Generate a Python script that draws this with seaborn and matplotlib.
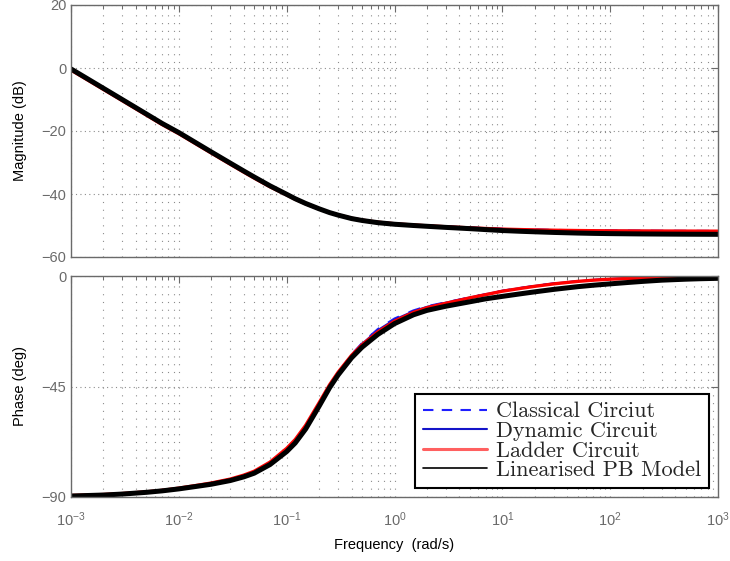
import numpy as np
import pandas as pd
import matplotlib
matplotlib.use("Agg")
import matplotlib.pyplot as plt
import seaborn as sns
from matplotlib.ticker import LogLocator, FixedLocator, NullFormatter
from matplotlib.font_manager import FontProperties

# ---------------- data ----------------
freq = [1e-3, 2e-3, 3e-3, 5e-3, 7e-3, 1e-2, 1.5e-2, 2e-2, 3e-2, 4e-2, 5e-2, 7e-2,
        0.1, 0.12, 0.15, 0.2, 0.25, 0.3, 0.4, 0.5, 0.7, 1, 1.5, 2, 3, 5, 7, 10,
        15, 20, 30, 50, 70, 100, 150, 200, 300, 500, 700, 1000]

mag_pb = [-0.3, -6.45, -10.05, -14.6, -17.6, -20.5, -24.1, -26.65, -30.2, -32.7,
          -34.6, -37.4, -40.1, -41.5, -43.0, -44.7, -45.9, -46.7, -47.8, -48.4,
          -49.1, -49.6, -50.0, -50.25, -50.6, -51.0, -51.3, -51.6, -51.85, -52.0,
          -52.2, -52.4, -52.5, -52.58, -52.64, -52.68, -52.72, -52.76, -52.78, -52.8]
mag_ladder = [-0.65, -6.8, -10.4, -14.95, -17.95, -20.85, -24.45, -27.0, -30.55, -33.05,
              -34.95, -37.7, -40.3, -41.65, -43.1, -44.75, -45.9, -46.65, -47.7, -48.3,
              -48.95, -49.45, -49.85, -50.1, -50.4, -50.75, -50.95, -51.15, -51.3, -51.4,
              -51.5, -51.6, -51.65, -51.7, -51.72, -51.74, -51.76, -51.78, -51.79, -51.8]
mag_dynamic = [-0.1, -6.25, -9.85, -14.4, -17.4, -20.3, -23.9, -26.45, -30.0, -32.5,
               -34.4, -37.2, -39.9, -41.3, -42.8, -44.5, -45.7, -46.5, -47.55, -48.15,
               -48.85, -49.35, -49.75, -50.0, -50.3, -50.65, -50.85, -51.05, -51.2, -51.3,
               -51.4, -51.5, -51.55, -51.6, -51.63, -51.65, -51.68, -51.7, -51.71, -51.72]
mag_classical = [-0.1, -6.25, -9.85, -14.4, -17.4, -20.3, -23.9, -26.45, -30.0, -32.5,
                 -34.4, -37.2, -39.9, -41.3, -42.8, -44.5, -45.7, -46.5, -47.55, -48.15,
                 -48.85, -49.35, -49.75, -50.0, -50.3, -50.65, -50.85, -51.05, -51.2, -51.3,
                 -51.4, -51.5, -51.55, -51.6, -51.63, -51.65, -51.68, -51.7, -51.71, -51.72]

ph_pb = [-89.6, -89.2, -88.8, -88.1, -87.5, -86.7, -85.6, -84.8, -83.3, -81.8,
         -80.3, -76.8, -71.5, -68.0, -62.3, -53.0, -45.5, -40.3, -33.3, -29.0,
         -23.8, -19.4, -15.8, -14.0, -12.3, -10.5, -9.3, -8.3, -7.2, -6.45,
         -5.45, -4.35, -3.75, -3.2, -2.6, -2.2, -1.7, -1.3, -1.1, -0.95]
ph_ladder = [-89.4, -89.0, -88.6, -87.9, -87.3, -86.4, -85.2, -84.3, -82.7, -81.1,
             -79.5, -75.8, -70.2, -66.6, -60.8, -51.6, -44.3, -39.2, -32.3, -28.0,
             -22.8, -18.4, -14.8, -12.9, -11.1, -8.9, -7.6, -6.2, -5.0, -4.2,
             -3.2, -2.2, -1.7, -1.3, -1.0, -0.85, -0.7, -0.55, -0.5, -0.45]
ph_dynamic = [-89.8, -89.4, -89.0, -88.3, -87.7, -86.8, -85.6, -84.7, -83.1, -81.5,
              -79.9, -76.3, -70.8, -67.2, -61.5, -52.2, -44.8, -39.5, -32.2, -27.6,
              -22.0, -17.7, -14.3, -12.5, -10.8, -8.7, -7.4, -6.0, -4.8, -4.0,
              -3.0, -2.1, -1.6, -1.2, -0.95, -0.8, -0.65, -0.5, -0.45, -0.4]
ph_classical = [-89.8, -89.4, -89.0, -88.3, -87.7, -86.8, -85.6, -84.7, -83.1, -81.5,
                -79.9, -76.3, -70.8, -67.2, -61.5, -52.2, -44.8, -39.4, -32.0, -27.3,
                -21.6, -17.3, -14.0, -12.3, -10.7, -8.7, -7.4, -6.0, -4.8, -4.0,
                -3.0, -2.1, -1.6, -1.2, -0.95, -0.8, -0.65, -0.5, -0.45, -0.4]

labels = ["Classical Circiut", "Dynamic Circuit", "Ladder Circuit", "Linearised PB Model"]
mags = [mag_classical, mag_dynamic, mag_ladder, mag_pb]
phases = [ph_classical, ph_dynamic, ph_ladder, ph_pb]
xticks_major = [1e-3, 1e-2, 1e-1, 1e0, 1e1, 1e2, 1e3]
mag_ticks = [-60, -40, -20, 0, 20]
phase_ticks = [-90, -45, 0]

# ---------------- style ----------------
sns.set_style("white")
plt.rcParams['font.family'] = ['Liberation Sans', 'DejaVu Sans']
plt.rcParams['mathtext.default'] = 'regular'
plt.rcParams['axes.unicode_minus'] = True

colors = ["#1f1fff", "#1414c8", "#ff0000", "#000000"]
widths = [1.5, 1.3, 2.4, 3.6]
styles = [(0, (6, 5)), "-", "-", "-"]

fig = plt.figure(figsize=(7.30, 5.61), dpi=100)
ax1 = fig.add_axes([71/730, 1-257/561, 647/730, 252/561])
ax2 = fig.add_axes([71/730, 1-497/561, 647/730, 221/561])

spine_col = "#6a6a6a"
tick_col = "#6a6a6a"
grid_col = "#8c8c8c"

for ax, series in ((ax1, mags), (ax2, phases)):
    for lab, vals, c, lw, ls in zip(labels, series, colors, widths, styles):
        df = pd.DataFrame({"freq": freq, "val": vals})
        sns.lineplot(data=df, x="freq", y="val", ax=ax, color=c, linewidth=lw,
                     linestyle=ls, label=lab, legend=False, sort=True,
                     estimator=None)
    ax.set_xscale("log")
    ax.set_xlim(1e-3, 1e3)
    ax.xaxis.set_major_locator(FixedLocator(xticks_major))
    ax.xaxis.set_minor_locator(LogLocator(base=10, subs=np.arange(2, 10), numticks=100))
    ax.xaxis.set_minor_formatter(NullFormatter())
    ax.grid(True, which="major", axis="x", linestyle=(0, (1, 6)), color=grid_col, linewidth=0.8)
    ax.grid(True, which="minor", axis="x", linestyle=(0, (1, 6)), color=grid_col, linewidth=0.8)
    ax.grid(True, which="major", axis="y", linestyle=(0, (1, 3)), color=grid_col, linewidth=0.8)
    ax.tick_params(which="both", direction="in", top=True, right=True,
                   colors=tick_col, labelsize=10.5)
    ax.tick_params(which="major", length=5, width=0.8)
    ax.tick_params(which="minor", length=3, width=0.7)
    for sp in ax.spines.values():
        sp.set_color(spine_col)
        sp.set_linewidth(1.0)
    ax.set_axisbelow(True)

ax1.set_ylim(-60, 20)
ax1.yaxis.set_major_locator(FixedLocator(mag_ticks))
ax1.tick_params(axis="x", which="both", labelbottom=False)
ax1.set_xlabel("")
ax1.set_ylabel("Magnitude (dB)", fontsize=10.5, color="black", labelpad=10)

ax2.set_ylim(-90, 0)
ax2.yaxis.set_major_locator(FixedLocator(phase_ticks))
ax2.set_ylabel("Phase (deg)", fontsize=10.5, color="black", labelpad=10)
ax2.tick_params(axis="x", pad=10)
ax2.set_xlabel("Frequency  (rad/s)", fontsize=10.5, color="black", labelpad=6)

leg = ax2.legend(loc="lower right", bbox_to_anchor=(0.986, 0.041), borderaxespad=0,
                 prop=FontProperties(family="cmr10", size=16),
                 frameon=True, fancybox=False, handlelength=2.9, handletextpad=0.4,
                 labelspacing=0.0, borderpad=0.35)
leg.get_frame().set_edgecolor("black")
leg.get_frame().set_linewidth(1.5)
leg.get_frame().set_alpha(1)
for h, lw in zip(leg.get_lines(), [1.5, 1.5, 2.2, 1.2]):
    h.set_linewidth(lw)
leg.get_lines()[0].set_linestyle((0, (5, 4)))
leg.get_lines()[2].set_color("#ff6060")

fig.savefig("out.png", dpi=100)
